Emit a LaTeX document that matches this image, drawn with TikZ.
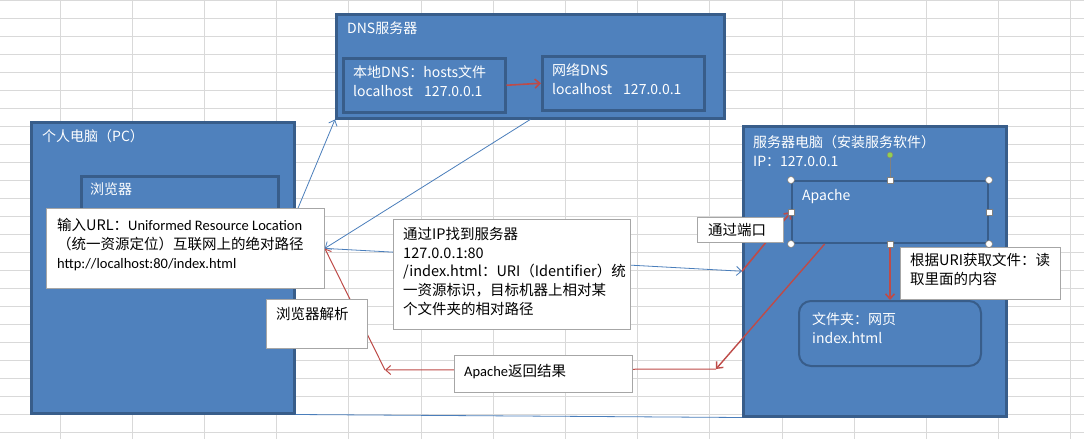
\documentclass[tikz,border=0pt]{standalone}
\usepackage{fontspec}
\newfontfamily\cjk{Noto Sans CJK SC}
\newfontfamily\lat{Carlito}
\usetikzlibrary{arrows.meta,calc}

\definecolor{boxblue}{RGB}{79,129,189}
\definecolor{edgeblue}{RGB}{56,93,138}
\definecolor{lineblue}{RGB}{74,126,187}
\definecolor{linered}{RGB}{190,75,72}
\definecolor{gridgray}{RGB}{217,217,217}
\definecolor{boxgray}{RGB}{166,166,166}
\definecolor{handlegreen}{RGB}{146,208,80}

\pgfdeclarelayer{boxes}
\pgfdeclarelayer{lines}
\pgfsetlayers{boxes,lines,main}

\begin{document}
\begin{tikzpicture}[x=1pt,y=-1pt,
    bluebox/.style={draw=edgeblue, fill=boxblue, line width=2.5pt, anchor=north west, inner sep=0pt},
    whitebox/.style={draw=boxgray, fill=white, line width=0.8pt, anchor=north west, inner sep=0pt},
    intext/.style={text=white, anchor=north west, inner sep=0pt, align=left, font=\cjk\fontsize{14}{19}\selectfont},
    outtext/.style={text=black, anchor=north west, inner sep=0pt, align=left, font=\cjk\fontsize{14.5}{18.8}\selectfont},
    blueline/.style={draw=lineblue, line width=0.8pt, -{Straight Barb[length=5pt,width=9pt]}},
    redline/.style={draw=linered, line width=1pt, -{Straight Barb[length=5pt,width=9pt]}},
    handle/.style={draw=gray, fill=white, line width=0.6pt, inner sep=0pt, minimum size=6pt}]

  \useasboundingbox (0,0) rectangle (1084,439);

  \begin{pgfonlayer}{boxes}
    % sheet grid
    \fill[white] (0,0) rectangle (1084,439);
    \foreach \i in {0,...,14}
      \draw[gridgray, line width=0.8pt] (60+72.2*\i,0) -- (60+72.2*\i,439);
    \foreach \j in {0,...,24}
      \draw[gridgray, line width=0.8pt] (0,18*\j) -- (1084,18*\j);

    % blue boxes
    \node[bluebox, minimum width=388pt, minimum height=104pt] (dns) at (335,13) {};
    \node[bluebox, minimum width=162pt, minimum height=54pt] (localdns) at (342,57) {};
    \node[bluebox, minimum width=162pt, minimum height=54pt] (netdns) at (541,55) {};
    \node[bluebox, minimum width=263pt, minimum height=291pt] (pc) at (30,121) {};
    \node[bluebox, minimum width=197pt, minimum height=75pt] (browser) at (80,175) {};
    \node[bluebox, minimum width=263pt, minimum height=290pt] (server) at (742,125) {};
    \node[bluebox, line width=2pt, minimum width=196pt, minimum height=62pt] (apache) at (791,180) {};
    \node[bluebox, line width=2pt, rounded corners=12pt, minimum width=182pt, minimum height=65pt] (folder) at (798,300) {};

    \node[intext] (dnstitle) at (347,22) {DNS服务器};
    \node[intext] (localdnstext) at (353,65) {本地DNS：hosts文件\\localhost\hspace{0.8em}127.0.0.1};
    \node[intext] (netdnstext) at (552,63) {网络DNS\\localhost\hspace{0.8em}127.0.0.1};
    \node[intext] (pctitle) at (42,129) {个人电脑（PC）};
    \node[intext] (browsertitle) at (90,183) {浏览器};
    \node[intext] (servertitle) at (753,135) {服务器电脑（安装服务软件）\\IP：127.0.0.1};
    \node[intext] (apachetitle) at (802,189) {Apache};
    \node[intext] (foldertext) at (812,312) {文件夹：网页\\index.html};
  \end{pgfonlayer}

  % white notes
  \node[whitebox, minimum width=278pt, minimum height=80pt] (url) at (46,208) {};
  \node[whitebox, minimum width=237pt, minimum height=110pt] (ipnote) at (393,219) {};
  \node[whitebox, minimum width=101pt, minimum height=49pt] (parse) at (266,299) {};
  \node[whitebox, minimum width=178pt, minimum height=37pt] (ret) at (454,355) {};
  \node[whitebox, minimum width=86pt, minimum height=25pt] (port) at (697,217) {};
  \node[whitebox, minimum width=160pt, minimum height=52pt] (uri) at (900,247) {};

  \node[outtext] (urltext) at (57,218) {输入URL：{\lat Uniformed Resource Location}\\（统一资源定位）互联网上的绝对路径\\{\lat http://localhost:80/index.html}};
  \node[outtext] (iptext) at (403,227) {通过IP找到服务器\\127.0.0.1:80\\/index.html：URI（Identifier）统\\一资源标识，目标机器上相对某\\个文件夹的相对路径};
  \node[outtext] (parsetext) at (276,307) {浏览器解析};
  \node[outtext] (rettext) at (464,364) {{\lat Apache}返回结果};
  \node[outtext] (porttext) at (708,223) {通过端口};
  \node[outtext] (uritext) at (910,253) {根据URI获取文件：读\\取里面的内容};

  \coordinate (back1) at (716,369);
  \coordinate (back2) at (385,370);

  \begin{pgfonlayer}{lines}
    \draw[blueline] (browser.south east) -- (dns.south west);
    \draw[blueline] (dns.south) -- (url.east);
    \draw[blueline] (url.east) -- (server.west);
    \draw[draw=lineblue, line width=0.8pt] (pc.south east) -- (server.south west);
    \draw[redline, line width=1.6pt] (localdns.east) -- (netdns.west);
    \draw[redline, line width=1.6pt] (server.west) -- (apache.west);
    \draw[redline, line width=1.6pt] (apache.south) -- (folder.north);
    \draw[redline, line width=1.4pt] ($(apache.south west)!0.17!(apache.south east)$) -- (back1);
    \draw[redline] (back1) -- (back2);
    \draw[redline] (back2) -- (url.east);
  \end{pgfonlayer}

  % selection handles
  \node[handle, circle, fill=handlegreen, draw=gray] (rot) at ([yshift=25pt]apache.north) {};
  \draw[gray, line width=0.6pt] (rot) -- (apache.north);
  \foreach \a in {north west, north east, south west, south east}
    \node[handle, circle, minimum size=7pt] (h-\a) at (apache.\a) {};
  \foreach \a in {north, south, west, east}
    \node[handle] (h-\a) at (apache.\a) {};

\end{tikzpicture}
\end{document}
